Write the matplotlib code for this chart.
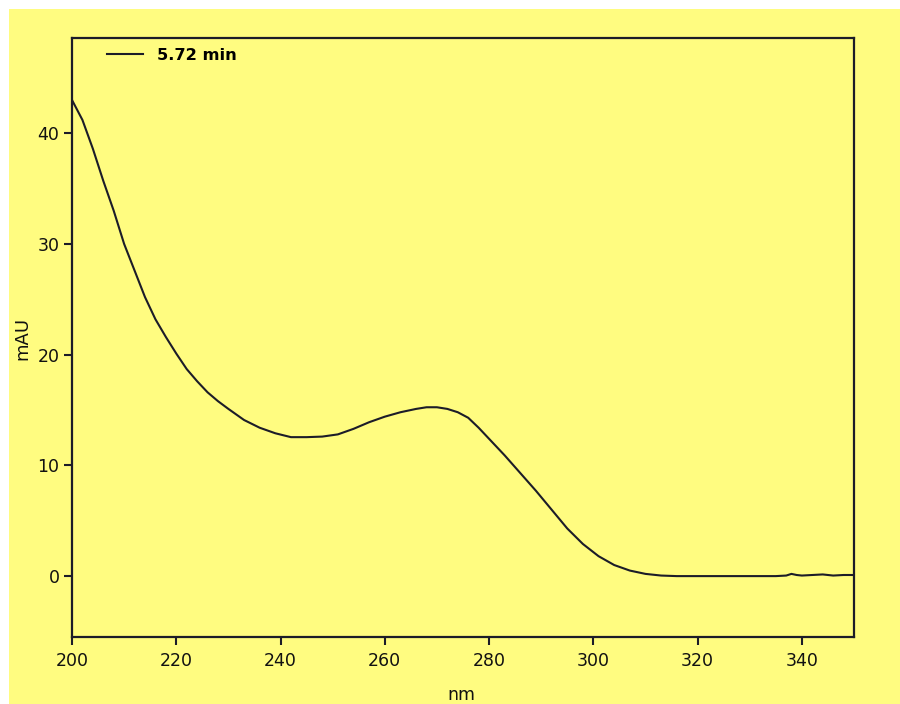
import matplotlib
matplotlib.use("Agg")
import matplotlib.pyplot as plt
from matplotlib.patches import Rectangle

# UV spectrum at retention time 5.72 min
wavelength_nm = [200, 202, 204, 206, 208, 210, 212, 214, 216, 218, 220, 222, 224,
                 226, 228, 230, 233, 236, 239, 242, 245, 248, 251, 254, 257,
                 260, 263, 266, 268, 270, 272, 274, 276, 278, 280, 283, 286,
                 289, 292, 295, 298, 301, 304, 307, 310, 313, 316, 320, 325,
                 330, 335, 337, 338, 339, 340, 342, 344, 346, 348, 350]
absorbance_mau = [43.0, 41.2, 38.6, 35.7, 33.0, 30.0, 27.6, 25.2, 23.2, 21.6, 20.1,
                  18.7, 17.6, 16.6, 15.8, 15.1, 14.1, 13.4, 12.9, 12.55, 12.55,
                  12.6, 12.8, 13.3, 13.9, 14.4, 14.8, 15.1, 15.25, 15.25, 15.1,
                  14.8, 14.3, 13.4, 12.4, 10.9, 9.3, 7.7, 6.0, 4.3, 2.9, 1.8,
                  1.0, 0.5, 0.2, 0.05, 0.0, 0.0, 0.0, 0.0, 0.0, 0.05, 0.2,
                  0.1, 0.05, 0.1, 0.15, 0.05, 0.1, 0.1]
series_label = "5.72 min"
x_ticks = [200, 220, 240, 260, 280, 300, 320, 340]
y_ticks = [0, 10, 20, 30, 40]

BG = "#FFFC80"
INK = "#1c1c28"

plt.rcParams["font.family"] = ["DejaVu Sans"]

fig = plt.figure(figsize=(9.0, 7.04), dpi=100, facecolor=BG)
# thin white margin along the top and left edges
fig.patches.append(Rectangle((0, 0), 9 / 900, 1, transform=fig.transFigure,
                             facecolor="white", edgecolor="none", zorder=-10))
fig.patches.append(Rectangle((0, 1 - 9 / 704), 1, 9 / 704, transform=fig.transFigure,
                             facecolor="white", edgecolor="none", zorder=-10))

ax = fig.add_axes([72 / 900, 67 / 704, 782 / 900, 599 / 704])
ax.set_facecolor(BG)
ax.plot(wavelength_nm, absorbance_mau, color=INK, lw=1.5, label=series_label)

ax.set_xlim(200, 350)
ax.set_ylim(-5.5, 48.6)
ax.set_xticks(x_ticks)
ax.set_yticks(y_ticks)
ax.tick_params(axis="both", direction="out", length=6, width=1.5,
               colors=INK, labelsize=12.5, labelcolor="#111111")
ax.tick_params(axis="x", pad=5)
ax.tick_params(axis="y", pad=3)
for s in ax.spines.values():
    s.set_linewidth(1.6)
    s.set_color(INK)

leg = ax.legend(loc="upper left", bbox_to_anchor=(35 / 782, 1 - 10 / 599),
                frameon=False, borderpad=0, borderaxespad=0,
                handlelength=2.2, handletextpad=0.9,
                prop={"family": "DejaVu Sans", "weight": "bold", "size": 11.7})

fig.text(22 / 900, 1 - 338 / 704, "mAU", rotation=90, ha="center", va="center",
         fontsize=13, color="#111111")
fig.text(461 / 900, 1 - 695 / 704, "nm", ha="center", va="center",
         fontsize=12.5, color="#111111")

fig.savefig("out.png", dpi=100, facecolor=fig.get_facecolor())
